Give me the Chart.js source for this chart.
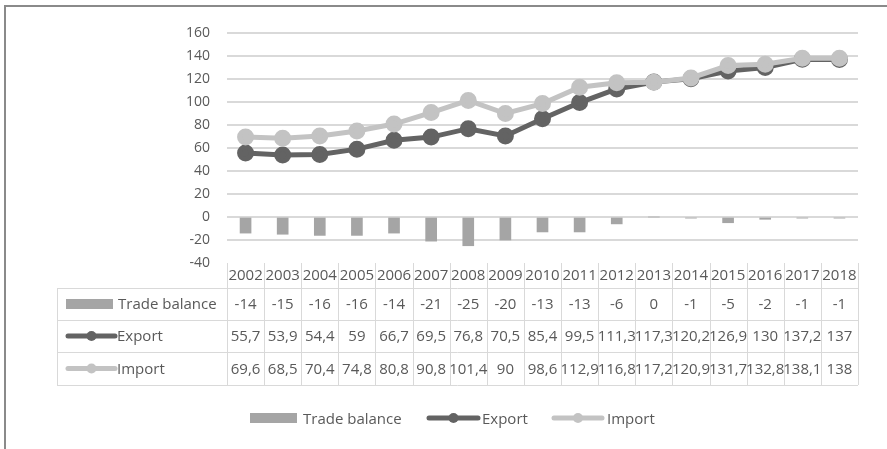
<!DOCTYPE html>
<html>
<head>
<meta charset="utf-8">
<script src="https://cdn.jsdelivr.net/npm/chart.js@4.4.0/dist/chart.umd.min.js"></script>
<style>
  html, body { margin: 0; padding: 0; background: #fff; }
  #wrap { position: relative; width: 887px; height: 449px; }
</style>
</head>
<body>
<div id="wrap"><canvas id="tradeChart" width="887" height="449"></canvas></div>
<script>
const years = ['2002','2003','2004','2005','2006','2007','2008','2009','2010','2011','2012','2013','2014','2015','2016','2017','2018'];
const tradeBalance = [-14,-15,-16,-16,-14,-21,-25,-20,-13,-13,-6,0,-1,-5,-2,-1,-1];
const exportValues = [55.7,53.9,54.4,59,66.7,69.5,76.8,70.5,85.4,99.5,111.3,117.3,120.2,126.9,130,137.2,137];
const importValues = [69.6,68.5,70.4,74.8,80.8,90.8,101.4,90,98.6,112.9,116.8,117.2,120.9,131.7,132.8,138.1,138];
const seriesNames = ['Trade balance','Export','Import'];

const FONT = '"Open Sans", sans-serif';
const TEXT = '#595959';
const GRID = '#d9d9d9';
const colBar = '#a5a5a5';
const colExp = '#636363';
const colImp = '#c3c3c3';

const fmt = v => String(v).replace('.', ',');

// legend key: box or line with dot
function drawKey(ctx, kind, x, y, w) {
  if (kind === 0) {
    ctx.fillStyle = colBar;
    ctx.fillRect(x, y - 5, w, 10);
  } else {
    const c = kind === 1 ? colExp : colImp;
    ctx.strokeStyle = c;
    ctx.lineWidth = 5;
    ctx.lineCap = 'round';
    ctx.beginPath();
    ctx.moveTo(x + 2, y);
    ctx.lineTo(x + w - 2, y);
    ctx.stroke();
    ctx.fillStyle = c;
    ctx.beginPath();
    ctx.arc(x + w / 2, y, 5, 0, Math.PI * 2);
    ctx.fill();
  }
}

const tablePlugin = {
  id: 'tablePlugin',
  afterDraw(chart) {
    const ctx = chart.ctx;
    const xs = chart.scales.x;
    const area = chart.chartArea;
    const colW = (area.right - area.left) / years.length;
    const tableLeft = 57;
    const rowLines = [288, 320, 352, 385];
    ctx.save();

    // frame of picture
    ctx.strokeStyle = '#8a8a8a';
    ctx.lineWidth = 2;
    ctx.beginPath();
    ctx.moveTo(5, 449);
    ctx.lineTo(5, 6);
    ctx.lineTo(887, 6);
    ctx.stroke();

    // grid of the data table
    ctx.strokeStyle = GRID;
    ctx.lineWidth = 1;
    ctx.beginPath();
    for (let k = 0; k <= years.length; k++) {
      const x = Math.round(area.left + k * colW) + 0.5;
      ctx.moveTo(x, area.bottom);
      ctx.lineTo(x, rowLines[3]);
    }
    ctx.moveTo(tableLeft + 0.5, rowLines[0]);
    ctx.lineTo(tableLeft + 0.5, rowLines[3]);
    rowLines.forEach(y => {
      ctx.moveTo(tableLeft, y + 0.5);
      ctx.lineTo(area.right, y + 0.5);
    });
    ctx.stroke();

    ctx.font = '15px ' + FONT;
    ctx.fillStyle = TEXT;
    ctx.textAlign = 'center';
    ctx.textBaseline = 'middle';
    const rows = [tradeBalance, exportValues, importValues];
    years.forEach((yr, i) => {
      const cx = xs.getPixelForValue(i);
      ctx.fillText(yr, cx, 276);
      rows.forEach((r, j) => {
        ctx.fillText(fmt(r[i]), cx, (rowLines[j] + rowLines[j + 1]) / 2 + 1);
      });
    });

    // row headers
    ctx.textAlign = 'left';
    seriesNames.forEach((name, j) => {
      const cy = (rowLines[j] + rowLines[j + 1]) / 2 + 1;
      drawKey(ctx, j, 66, cy - 1, j === 0 ? 47 : 51);
      ctx.fillStyle = TEXT;
      ctx.fillText(name, j === 0 ? 118 : 117, cy);
    });

    // bottom legend
    const ly = 418;
    const keys = [[250, 47, 303], [427, 53, 482], [552, 52, 607]];
    keys.forEach((k, j) => {
      drawKey(ctx, j, k[0], ly, k[1]);
      ctx.fillStyle = TEXT;
      ctx.fillText(seriesNames[j], k[2], ly + 2);
    });
    ctx.restore();
  }
};

const data = {
  labels: years,
  datasets: [
    {
      type: 'bar',
      label: seriesNames[0],
      data: tradeBalance,
      backgroundColor: colBar,
      barThickness: 11,
      order: 3
    },
    {
      type: 'line',
      label: seriesNames[1],
      data: exportValues,
      borderColor: colExp,
      backgroundColor: colExp,
      borderWidth: 5,
      pointRadius: 6,
      pointHoverRadius: 6,
      tension: 0,
      order: 2
    },
    {
      type: 'line',
      label: seriesNames[2],
      data: importValues,
      borderColor: colImp,
      backgroundColor: colImp,
      borderWidth: 5,
      pointRadius: 6,
      pointHoverRadius: 6,
      tension: 0,
      order: 1
    }
  ]
};

const config = {
  data,
  options: {
    responsive: false,
    animation: false,
    layout: { padding: { left: 0, right: 29, top: 33, bottom: 186 } },
    plugins: {
      legend: { display: false },
      tooltip: { enabled: false }
    },
    scales: {
      x: {
        display: false,
        offset: true,
        grid: { display: false }
      },
      y: {
        min: -40,
        max: 160,
        ticks: {
          stepSize: 20,
          color: TEXT,
          padding: 17,
          font: { family: FONT, size: 14 }
        },
        border: { display: false },
        grid: {
          drawTicks: false,
          color: ctx => ctx.tick && ctx.tick.value === -40 ? 'rgba(0,0,0,0)' : GRID,
          lineWidth: 2
        },
        afterFit(scale) { scale.width = 227; }
      }
    }
  },
  plugins: [tablePlugin]
};

const tradeChart = new Chart(document.getElementById('tradeChart'), config);
</script>
</body>
</html>
